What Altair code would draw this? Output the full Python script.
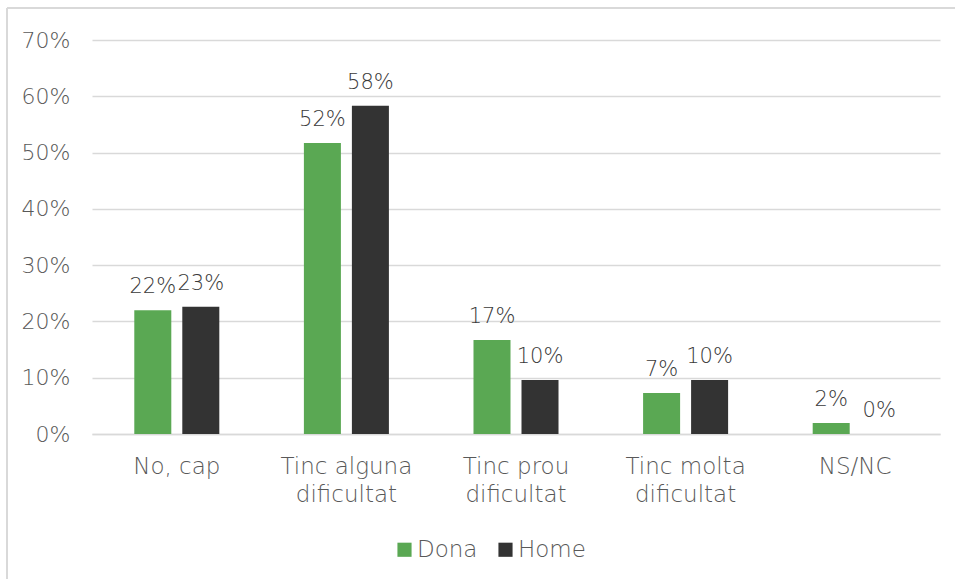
import altair as alt
import pandas as pd

categories = ["No, cap", "Tinc alguna dificultat", "Tinc prou dificultat", "Tinc molta dificultat", "NS/NC"]
dona = [0.22, 0.517, 0.167, 0.073, 0.0195]
home = [0.226, 0.583, 0.096, 0.096, 0.0]
dona_labels = ["22%", "52%", "17%", "7%", "2%"]
home_labels = ["23%", "58%", "10%", "10%", "0%"]
series = ["Dona", "Home"]
colors = ["#5aa853", "#333333"]

rows = []
for i, c in enumerate(categories):
    rows.append({"cat": c, "serie": "Dona", "val": dona[i], "lab": dona_labels[i]})
    rows.append({"cat": c, "serie": "Home", "val": home[i], "lab": home_labels[i]})
df = pd.DataFrame(rows)

FONT = "DejaVu Sans"
TXT = "#595959"

x = alt.X("cat:N", sort=categories, title=None,
          scale=alt.Scale(paddingInner=0, paddingOuter=0),
          axis=alt.Axis(labelExpr="indexof(datum.label, ' dificultat') > 0 ? [slice(datum.label, 0, indexof(datum.label, ' dificultat')), 'dificultat'] : datum.label",
                        labelAngle=0, labelFontSize=23, labelColor=TXT, labelFont=FONT,
                        labelFontWeight=300,
                        labelPadding=21, labelLineHeight=28, ticks=False,
                        domain=True, domainColor="#d9d9d9", domainWidth=1.5, grid=False))
xo = alt.XOffset("serie:N", sort=series,
                 scale=alt.Scale(paddingInner=0.229, paddingOuter=0.881))
y = alt.Y("val:Q", title=None,
          scale=alt.Scale(domain=[0, 0.7], nice=False),
          axis=alt.Axis(format=".0%", values=[0, 0.1, 0.2, 0.3, 0.4, 0.5, 0.6, 0.7],
                        labelFontSize=22, labelColor=TXT, labelFont=FONT, labelFontWeight=300,
                        labelPadding=22, ticks=False, domain=False,
                        gridColor="#d9d9d9", gridWidth=1.3))

bars = alt.Chart(df).mark_bar().encode(
    x=x, xOffset=xo, y=y,
    color=alt.Color("serie:N", sort=series,
                    scale=alt.Scale(domain=series, range=colors),
                    legend=alt.Legend(title=None, orient="none", legendX=301, legendY=498,
                                      direction="horizontal", symbolType="square",
                                      symbolSize=200, symbolStrokeWidth=0,
                                      labelFontSize=23, labelColor=TXT, labelFont=FONT,
                                      labelFontWeight=300,
                                      columnPadding=16, labelOffset=1))
)

labels = alt.Chart(df).mark_text(dy=-23, fontSize=21, color="#3a3a3a", font=FONT,
                                 fontWeight=300).encode(
    x=x, xOffset=xo, y=y, text="lab:N"
)

frame_top = alt.Chart(df).mark_rule(color="#d9d9d9", strokeWidth=1.5).encode(
    x=alt.value(-85), x2=alt.value(900), y=alt.value(-32))
frame_left = alt.Chart(df).mark_rule(color="#d9d9d9", strokeWidth=1.5).encode(
    x=alt.value(-85), y=alt.value(-32), y2=alt.value(560))

chart = alt.layer(frame_top, frame_left, bars, labels).properties(
    width=848, height=394,
    autosize=alt.AutoSizeParams(type="none"),
    padding={"left": 92, "top": 40, "right": 15, "bottom": 145},
    background="white"
).configure_view(stroke=None)

chart.save("out.html", embed_options={"renderer": "svg", "actions": False})
